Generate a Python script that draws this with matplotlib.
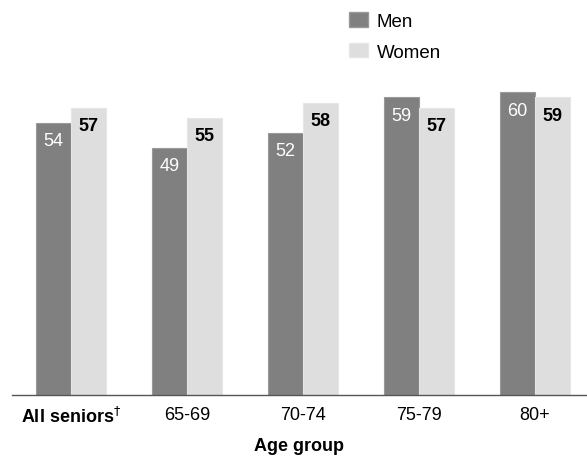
import matplotlib
matplotlib.use("Agg")
import matplotlib.pyplot as plt
from matplotlib.patches import Patch
import numpy as np

categories = ["All seniors", "65-69", "70-74", "75-79", "80+"]
men = [54, 49, 52, 59, 60]
women = [57, 55, 58, 57, 59]

MEN_COLOR = "#808080"
WOMEN_COLOR = "#dedede"
plt.rcParams["font.family"] = ["Liberation Sans Narrow", "Liberation Sans", "DejaVu Sans"]

fig = plt.figure(figsize=(5.87, 4.64), dpi=100)
ax = fig.add_axes([12 / 587, 68 / 464, 575 / 587, 353 / 464])

x = np.arange(len(categories))
w = 0.30
b_men = ax.bar(x - w / 2, men, w, color=MEN_COLOR, edgecolor="#9a9a9a", linewidth=0.8)
b_women = ax.bar(x + w / 2, women, w, color=WOMEN_COLOR, edgecolor="#e6e6e6", linewidth=0.8)

for rect, v in zip(b_men, men):
    ax.text(rect.get_x() + rect.get_width() / 2, v - 1.8, f"{v}",
            ha="center", va="top", color="white", fontsize=13)
for rect, v in zip(b_women, women):
    ax.text(rect.get_x() + rect.get_width() / 2, v - 1.8, f"{v}",
            ha="center", va="top", color="black", fontsize=13, fontweight="bold")

ax.set_xlim(-0.509, 4.448)
ax.set_ylim(0, 70)
for s in ["top", "right", "left"]:
    ax.spines[s].set_visible(False)
ax.spines["bottom"].set_color("#555555")
ax.spines["bottom"].set_linewidth(1.0)
ax.set_yticks([])
ax.set_xticks(x)
ax.set_xticklabels(["All seniors$^{\\dagger}$"] + categories[1:], fontsize=13)
ax.tick_params(axis="x", length=0, pad=8)
ax.get_xticklabels()[0].set_fontweight("bold")
ax.set_xlabel("Age group", fontsize=13, fontweight="bold", labelpad=8)

handles = [Patch(facecolor=MEN_COLOR, edgecolor="#9a9a9a"),
           Patch(facecolor=WOMEN_COLOR, edgecolor="#e6e6e6")]
fig.legend(handles, ["Men", "Women"], loc="upper left",
           bbox_to_anchor=(332 / 587, 1.008), frameon=False, fontsize=13.5,
           handlelength=1.0, handleheight=0.8, handletextpad=0.5, labelspacing=0.7)

fig.savefig("out.png", dpi=100)
